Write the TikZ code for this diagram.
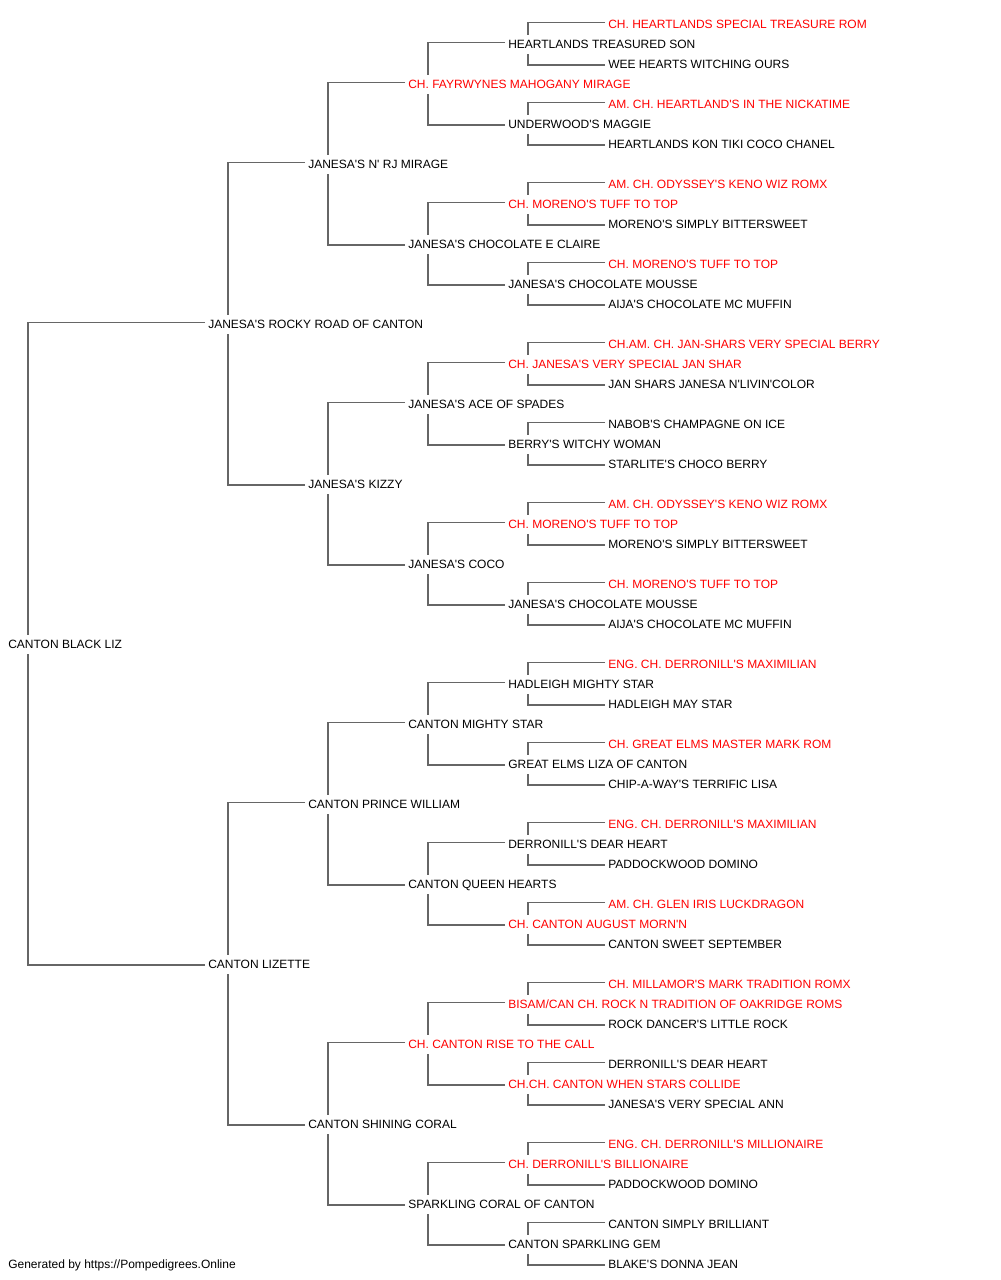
\documentclass[tikz,border=0pt]{standalone}
\usepackage{fontspec}
\newfontfamily\pedfont{Liberation Sans}
\definecolor{chred}{HTML}{FF0000}
\definecolor{linegray}{HTML}{666666}
\tikzset{
  ped/.style={anchor=west, inner sep=0pt, text height=6.45pt, text depth=0pt,
    font=\pedfont\fontsize{9pt}{11pt}\selectfont, text=black},
  champ/.style={ped, text=chred},
  conn/.style={draw=linegray, line width=1.3pt}
}
\newcommand{\pedconn}[3]{%
  \draw[conn] ([xshift=-2.25pt,yshift=1.2pt]n#2.west) -| ([xshift=15pt,yshift=6.75pt]n#1.west);
  \draw[conn] ([xshift=-2.25pt,yshift=-0.6pt]n#3.west) -| ([xshift=15pt,yshift=-7.5pt]n#1.west);
}
\begin{document}
\begin{tikzpicture}[x=0.75pt,y=-0.75pt]
\useasboundingbox (0,0) rectangle (1000,1280);
% generation 1
\node[ped] (n31) at (8,644.2) {CANTON BLACK LIZ};
% generation 2
\node[ped] (n15) at (208,324.2) {JANESA'S ROCKY ROAD OF CANTON};
\node[ped] (n47) at (208,964.2) {CANTON LIZETTE};
% generation 3
\node[ped] (n7) at (308,164.2) {JANESA'S N' RJ MIRAGE};
\node[ped] (n23) at (308,484.2) {JANESA'S KIZZY};
\node[ped] (n39) at (308,804.2) {CANTON PRINCE WILLIAM};
\node[ped] (n55) at (308,1124.2) {CANTON SHINING CORAL};
% generation 4
\node[champ] (n3) at (408,84.2) {CH. FAYRWYNES MAHOGANY MIRAGE};
\node[ped] (n11) at (408,244.2) {JANESA'S CHOCOLATE E CLAIRE};
\node[ped] (n19) at (408,404.2) {JANESA'S ACE OF SPADES};
\node[ped] (n27) at (408,564.2) {JANESA'S COCO};
\node[ped] (n35) at (408,724.2) {CANTON MIGHTY STAR};
\node[ped] (n43) at (408,884.2) {CANTON QUEEN HEARTS};
\node[champ] (n51) at (408,1044.2) {CH. CANTON RISE TO THE CALL};
\node[ped] (n59) at (408,1204.2) {SPARKLING CORAL OF CANTON};
% generation 5
\node[ped] (n1) at (508,44.2) {HEARTLANDS TREASURED SON};
\node[ped] (n5) at (508,124.2) {UNDERWOOD'S MAGGIE};
\node[champ] (n9) at (508,204.2) {CH. MORENO'S TUFF TO TOP};
\node[ped] (n13) at (508,284.2) {JANESA'S CHOCOLATE MOUSSE};
\node[champ] (n17) at (508,364.2) {CH. JANESA'S VERY SPECIAL JAN SHAR};
\node[ped] (n21) at (508,444.2) {BERRY'S WITCHY WOMAN};
\node[champ] (n25) at (508,524.2) {CH. MORENO'S TUFF TO TOP};
\node[ped] (n29) at (508,604.2) {JANESA'S CHOCOLATE MOUSSE};
\node[ped] (n33) at (508,684.2) {HADLEIGH MIGHTY STAR};
\node[ped] (n37) at (508,764.2) {GREAT ELMS LIZA OF CANTON};
\node[ped] (n41) at (508,844.2) {DERRONILL'S DEAR HEART};
\node[champ] (n45) at (508,924.2) {CH. CANTON AUGUST MORN'N};
\node[champ] (n49) at (508,1004.2) {BISAM/CAN CH. ROCK N TRADITION OF OAKRIDGE ROMS};
\node[champ] (n53) at (508,1084.2) {CH.CH. CANTON WHEN STARS COLLIDE};
\node[champ] (n57) at (508,1164.2) {CH. DERRONILL'S BILLIONAIRE};
\node[ped] (n61) at (508,1244.2) {CANTON SPARKLING GEM};
% generation 6
\node[champ] (n0) at (608,24.2) {CH. HEARTLANDS SPECIAL TREASURE ROM};
\node[ped] (n2) at (608,64.2) {WEE HEARTS WITCHING OURS};
\node[champ] (n4) at (608,104.2) {AM. CH. HEARTLAND'S IN THE NICKATIME};
\node[ped] (n6) at (608,144.2) {HEARTLANDS KON TIKI COCO CHANEL};
\node[champ] (n8) at (608,184.2) {AM. CH. ODYSSEY'S KENO WIZ ROMX};
\node[ped] (n10) at (608,224.2) {MORENO'S SIMPLY BITTERSWEET};
\node[champ] (n12) at (608,264.2) {CH. MORENO'S TUFF TO TOP};
\node[ped] (n14) at (608,304.2) {AIJA'S CHOCOLATE MC MUFFIN};
\node[champ] (n16) at (608,344.2) {CH.AM. CH. JAN-SHARS VERY SPECIAL BERRY};
\node[ped] (n18) at (608,384.2) {JAN SHARS JANESA N'LIVIN'COLOR};
\node[ped] (n20) at (608,424.2) {NABOB'S CHAMPAGNE ON ICE};
\node[ped] (n22) at (608,464.2) {STARLITE'S CHOCO BERRY};
\node[champ] (n24) at (608,504.2) {AM. CH. ODYSSEY'S KENO WIZ ROMX};
\node[ped] (n26) at (608,544.2) {MORENO'S SIMPLY BITTERSWEET};
\node[champ] (n28) at (608,584.2) {CH. MORENO'S TUFF TO TOP};
\node[ped] (n30) at (608,624.2) {AIJA'S CHOCOLATE MC MUFFIN};
\node[champ] (n32) at (608,664.2) {ENG. CH. DERRONILL'S MAXIMILIAN};
\node[ped] (n34) at (608,704.2) {HADLEIGH MAY STAR};
\node[champ] (n36) at (608,744.2) {CH. GREAT ELMS MASTER MARK ROM};
\node[ped] (n38) at (608,784.2) {CHIP-A-WAY'S TERRIFIC LISA};
\node[champ] (n40) at (608,824.2) {ENG. CH. DERRONILL'S MAXIMILIAN};
\node[ped] (n42) at (608,864.2) {PADDOCKWOOD DOMINO};
\node[champ] (n44) at (608,904.2) {AM. CH. GLEN IRIS LUCKDRAGON};
\node[ped] (n46) at (608,944.2) {CANTON SWEET SEPTEMBER};
\node[champ] (n48) at (608,984.2) {CH. MILLAMOR'S MARK TRADITION ROMX};
\node[ped] (n50) at (608,1024.2) {ROCK DANCER'S LITTLE ROCK};
\node[ped] (n52) at (608,1064.2) {DERRONILL'S DEAR HEART};
\node[ped] (n54) at (608,1104.2) {JANESA'S VERY SPECIAL ANN};
\node[champ] (n56) at (608,1144.2) {ENG. CH. DERRONILL'S MILLIONAIRE};
\node[ped] (n58) at (608,1184.2) {PADDOCKWOOD DOMINO};
\node[ped] (n60) at (608,1224.2) {CANTON SIMPLY BRILLIANT};
\node[ped] (n62) at (608,1264.2) {BLAKE'S DONNA JEAN};
% footer
\node[ped] (footer) at (8,1264.2) {Generated by https://Pompedigrees.Online};
% connectors
\pedconn{31}{15}{47}
\pedconn{15}{7}{23}
\pedconn{47}{39}{55}
\pedconn{7}{3}{11}
\pedconn{23}{19}{27}
\pedconn{39}{35}{43}
\pedconn{55}{51}{59}
\pedconn{3}{1}{5}
\pedconn{11}{9}{13}
\pedconn{19}{17}{21}
\pedconn{27}{25}{29}
\pedconn{35}{33}{37}
\pedconn{43}{41}{45}
\pedconn{51}{49}{53}
\pedconn{59}{57}{61}
\pedconn{1}{0}{2}
\pedconn{5}{4}{6}
\pedconn{9}{8}{10}
\pedconn{13}{12}{14}
\pedconn{17}{16}{18}
\pedconn{21}{20}{22}
\pedconn{25}{24}{26}
\pedconn{29}{28}{30}
\pedconn{33}{32}{34}
\pedconn{37}{36}{38}
\pedconn{41}{40}{42}
\pedconn{45}{44}{46}
\pedconn{49}{48}{50}
\pedconn{53}{52}{54}
\pedconn{57}{56}{58}
\pedconn{61}{60}{62}
\end{tikzpicture}
\end{document}
